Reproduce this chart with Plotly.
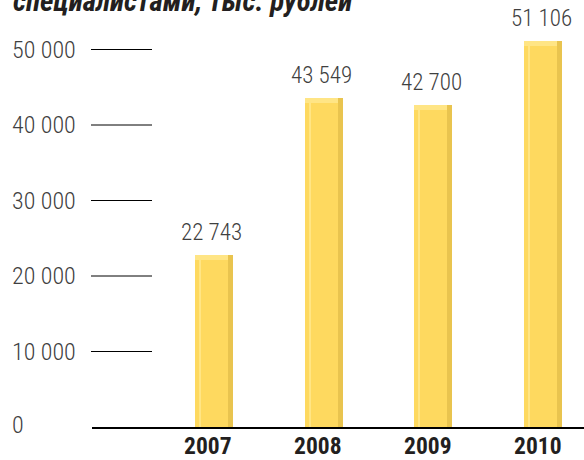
import plotly.graph_objects as go

# ---- data ----
years = ["2007", "2008", "2009", "2010"]
values = [22743, 43549, 42700, 51106]
tick_values = [0, 10000, 20000, 30000, 40000, 50000]
title_text = "специалистами, тыс. рублей"

def fmt(v):
    return f"{v:,}".replace(",", " ")

# ---- layout geometry ----
W, H = 584, 460
ML, MR, MT, MB = 92, 0, 20, 33
plot_w = W - ML - MR
plot_h = H - MT - MB
y_top_px = 49.5
y_max = 50000 * plot_h / (H - MB - y_top_px)
x_range = [-1.112, 3.373]
unit_px = plot_w / (x_range[1] - x_range[0])
bar_w = 38 / unit_px
dark_w = 5 / unit_px
hl_w = 1.6 / unit_px
hl_off = 4.5 / unit_px
cap_h = 5 * y_max / plot_h

FONT = "Roboto Condensed, Liberation Sans Narrow, sans-serif"
BAR = "#FED95F"
DARK = "#E9C44F"
LIGHT = "#FFE585"

fig = go.Figure()
fig.add_trace(go.Bar(x=years, y=values, width=bar_w, offset=-bar_w / 2,
                     marker=dict(color=BAR, line=dict(width=0)), hoverinfo="skip"))
fig.add_trace(go.Bar(x=years, y=values, width=dark_w, offset=bar_w / 2 - dark_w,
                     marker=dict(color=DARK, line=dict(width=0)), hoverinfo="skip"))
fig.add_trace(go.Bar(x=years, y=[v - cap_h for v in values], width=hl_w,
                     offset=-bar_w / 2 + hl_off,
                     marker=dict(color=LIGHT, line=dict(width=0)), hoverinfo="skip"))
fig.add_trace(go.Bar(x=years, y=[cap_h] * len(values), base=[v - cap_h for v in values],
                     width=bar_w - dark_w, offset=-bar_w / 2,
                     marker=dict(color=LIGHT, line=dict(width=0)), hoverinfo="skip"))

annotations = []
for i, v in enumerate(values):
    annotations.append(dict(x=i, y=v, xref="x", yref="y", text=fmt(v),
                            showarrow=False, yanchor="bottom", xanchor="center",
                            xshift=-2, yshift=7,
                            font=dict(family=FONT, size=23, color="#404040", weight=300)))
for t in tick_values:
    annotations.append(dict(x=(10 - ML) / plot_w, y=t, xref="paper", yref="y",
                            text=fmt(t), showarrow=False, xanchor="left",
                            yanchor="middle", yshift=2 if t == 0 else 0,
                            font=dict(family=FONT, size=24, color="#404040", weight=300)))
for i, yr in enumerate(years):
    annotations.append(dict(x=i, y=0, xref="x", yref="paper",
                            text=yr, showarrow=False, xanchor="center", yanchor="top",
                            xshift=-5.5, yshift=-3,
                            font=dict(family=FONT, size=23.5, color="#231f20", weight="bold")))
annotations.append(dict(x=(11 - ML) / plot_w, y=1 + (MT - 20) / plot_h, xref="paper",
                        yref="paper", text="<b><i>" + title_text + "</i></b>",
                        showarrow=False, xanchor="left", yanchor="bottom",
                        font=dict(family=FONT, size=29, color="#231f20")))

shapes = []
for t in tick_values[1:]:
    shapes.append(dict(type="line", xref="paper", yref="y", x0=-1 / plot_w,
                       x1=60 / plot_w, y0=t, y1=t, line=dict(color="#000", width=1)))

fig.update_layout(
    width=W, height=H,
    margin=dict(l=ML, r=MR, t=MT, b=MB),
    paper_bgcolor="white", plot_bgcolor="white",
    barmode="overlay", showlegend=False, bargap=0,
    xaxis=dict(type="category", range=x_range, showticklabels=False, ticks="",
               showgrid=False, zeroline=False, showline=True, linecolor="#000",
               linewidth=1.5),
    yaxis=dict(range=[0, y_max], showticklabels=False, showgrid=False,
               zeroline=False, showline=False, ticks=""),
    annotations=annotations, shapes=shapes,
)

fig.write_html("out.html", config={"displayModeBar": False},
               post_script="document.body.style.margin='0';")
